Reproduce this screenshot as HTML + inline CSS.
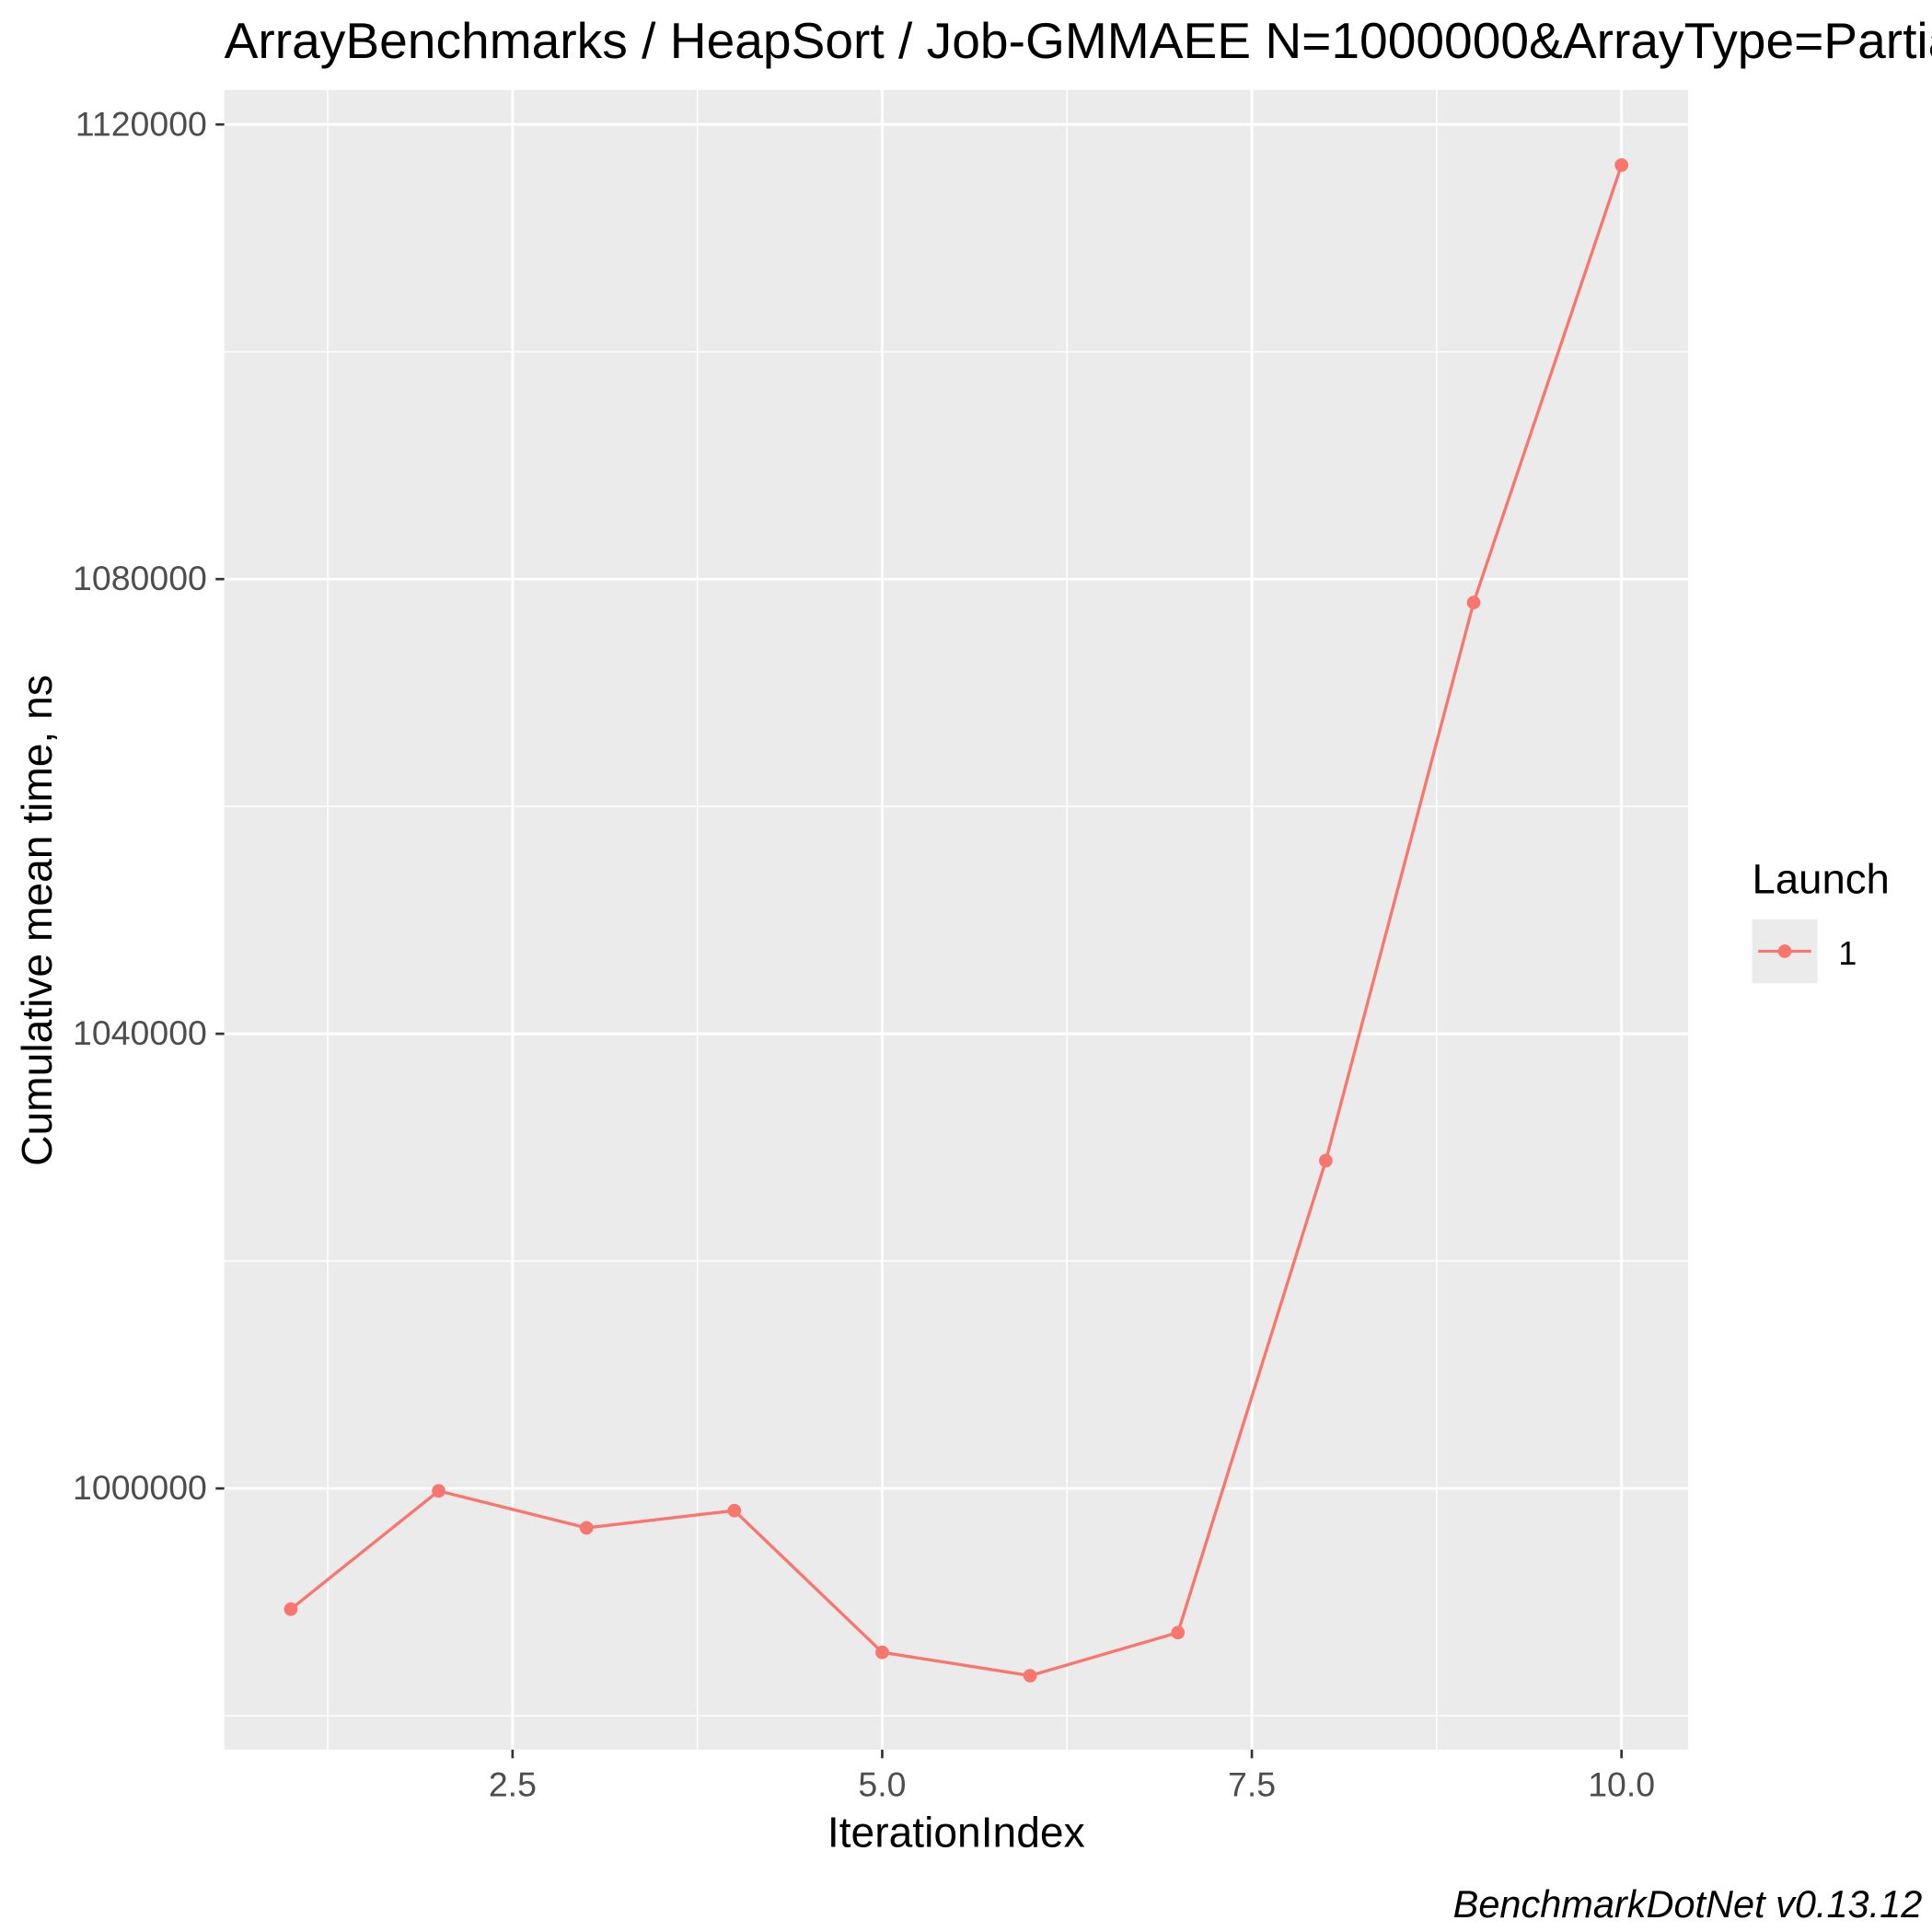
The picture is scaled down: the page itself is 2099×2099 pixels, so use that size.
<!DOCTYPE html>
<html><head><meta charset="utf-8"><style>html,body{margin:0;padding:0;background:#fff}svg{display:block}</style></head>
<body>
<svg id="chart" width="2099" height="2099" viewBox="0 0 1568 1568" xmlns="http://www.w3.org/2000/svg" font-family="Liberation Sans, Arial, sans-serif">
<rect width="1568" height="1568" fill="#fff"/>
<text x="182" y="47" font-size="41.2" fill="#000">ArrayBenchmarks / HeapSort / Job-GMMAEE N=1000000&amp;ArrayType=PartiallySorted</text>
<rect x="182" y="73" width="1188" height="1347" fill="#ebebeb"/>
<g id="grid"></g>
<g id="series"></g>
<g id="axes"></g>
<text x="776" y="1499" font-size="34.5" text-anchor="middle" fill="#000">IterationIndex</text>
<text transform="translate(42,747) rotate(-90)" font-size="34.5" text-anchor="middle" fill="#000">Cumulative mean time, ns</text>
<g>
<text x="1422" y="725" font-size="34" fill="#000">Launch</text>
<rect x="1422" y="746" width="53" height="52" fill="#ebebeb"/>
<line x1="1427" y1="772" x2="1470" y2="772" stroke="#f8766d" stroke-width="2.4"/>
<circle cx="1448.5" cy="772" r="5.5" fill="#f8766d"/>
<text x="1492" y="783" font-size="27" fill="#000">1</text>
</g>
<text x="1560" y="1556" font-size="31" font-style="italic" text-anchor="end" fill="#000">BenchmarkDotNet v0.13.12</text>
</svg>
<script>
const iterations=[1,2,3,4,5,6,7,8,9,10];
const meanTimes=[989377,999783,996531,998049,985583,983523,987317,1028835,1077940,1116423];
const xTicks=[2.5,5.0,7.5,10.0];
const xTickLabels=["2.5","5.0","7.5","10.0"];
const xMinor=[1.25,3.75,6.25,8.75];
const yTicks=[1000000,1040000,1080000,1120000];
const yTickLabels=["1000000","1040000","1080000","1120000"];
const yMinor=[980000,1020000,1060000,1100000];
const NS="http://www.w3.org/2000/svg";
const X=v=>236+(v-1)*120;
const Y=v=>1208-(v-1000000)/120000*1107;
const L=182,R=1370,T=73,B=1420;
function mk(tag,attrs,parent){const e=document.createElementNS(NS,tag);for(const k in attrs)e.setAttribute(k,attrs[k]);parent.appendChild(e);return e;}
const grid=document.getElementById('grid'),axes=document.getElementById('axes'),series=document.getElementById('series');
xMinor.forEach(v=>{const l=mk('line',{x1:X(v),x2:X(v),y1:T,y2:B,stroke:'#fff','stroke-width':1.1},grid);

});
yMinor.forEach(v=>{const l=mk('line',{x1:L,x2:R,y1:Y(v),y2:Y(v),stroke:'#fff','stroke-width':1.1},grid);

});
xTicks.forEach((v,i)=>{const l=mk('line',{x1:X(v),x2:X(v),y1:T,y2:B,stroke:'#fff','stroke-width':2.2},grid);


mk('line',{x1:X(v),x2:X(v),y1:B,y2:B+7,stroke:'#333','stroke-width':2},axes);
const t=mk('text',{x:X(v),y:B+38,'font-size':28,'text-anchor':'middle',fill:'#4d4d4d'},axes);t.textContent=xTickLabels[i];

});
yTicks.forEach((v,i)=>{const l=mk('line',{x1:L,x2:R,y1:Y(v),y2:Y(v),stroke:'#fff','stroke-width':2.2},grid);


mk('line',{x1:L-7,x2:L,y1:Y(v),y2:Y(v),stroke:'#333','stroke-width':2},axes);
const t=mk('text',{x:L-14,y:Y(v)+9,'font-size':28,'text-anchor':'end',fill:'#4d4d4d'},axes);t.textContent=yTickLabels[i];

});
const pts=iterations.map((v,i)=>X(v)+','+Y(meanTimes[i])).join(' ');
const pl=mk('polyline',{points:pts,fill:'none',stroke:'#f8766d','stroke-width':2.5},series);


iterations.forEach((v,i)=>{const c=mk('circle',{cx:X(v),cy:Y(meanTimes[i]),r:5.5,fill:'#f8766d'},series);

});
</script>
</body></html>
